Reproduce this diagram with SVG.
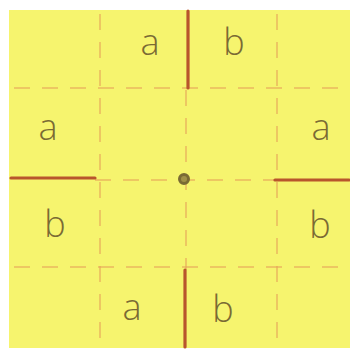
<svg xmlns="http://www.w3.org/2000/svg" width="350" height="349" viewBox="0 0 350 349">
<style>
.dash{stroke:#E6A45A;stroke-width:1.5;stroke-dasharray:16 12;fill:none;opacity:0.75}
.red{stroke:#B8552C;stroke-width:3.2;fill:none;stroke-linecap:round}
.lbl{font-family:"Open Sans","DejaVu Sans",sans-serif;font-size:36px;font-weight:300;fill:#7A6A34;text-anchor:middle}
</style>
<rect x="0" y="0" width="350" height="349" fill="#ffffff"/>
<rect x="9" y="10" width="341" height="338" fill="#F6F46E"/>
<g id="grid">
<line class="dash" x1="100" y1="14" x2="100" y2="344"/>
<line class="dash" x1="186" y1="90" x2="186" y2="270"/>
<line class="dash" x1="277" y1="14" x2="277" y2="344"/>
<line class="dash" x1="14" y1="88" x2="346" y2="88"/>
<line class="dash" x1="95" y1="180" x2="275" y2="180"/>
<line class="dash" x1="14" y1="267" x2="346" y2="267"/>
</g>
<g id="walls">
<line class="red" x1="188" y1="11" x2="188" y2="88"/>
<line class="red" x1="185" y1="270" x2="185" y2="347"/>
<line class="red" x1="11" y1="178" x2="95" y2="178"/>
<line class="red" x1="275" y1="180" x2="349" y2="180"/>
</g>
<g id="center">
<circle cx="184" cy="179" r="4.5" fill="#A09048" stroke="#7A6A34" stroke-width="3"/>
</g>
<g id="labels">
<text class="lbl" x="150" y="55">a</text>
<text class="lbl" x="234" y="55">b</text>
<text class="lbl" x="48" y="140">a</text>
<text class="lbl" x="321" y="140">a</text>
<text class="lbl" x="55" y="237">b</text>
<text class="lbl" x="320" y="238">b</text>
<text class="lbl" x="132" y="320">a</text>
<text class="lbl" x="223" y="322">b</text>
</g>
</svg>
